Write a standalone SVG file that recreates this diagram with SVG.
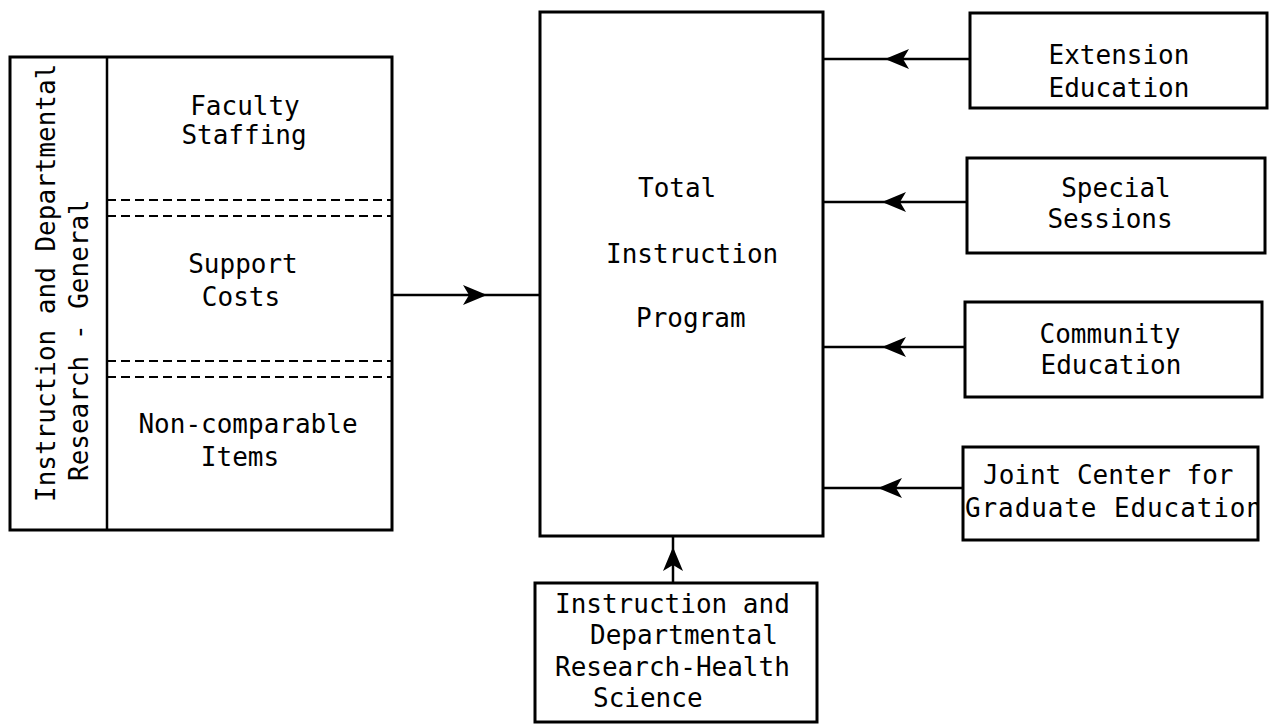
<svg xmlns="http://www.w3.org/2000/svg" width="1274" height="724" viewBox="0 0 1274 724">
<style>
.box{fill:none;stroke:#000;stroke-width:3}
.div{fill:none;stroke:#000;stroke-width:2.5}
.dash{fill:none;stroke:#000;stroke-width:2;stroke-dasharray:9 5}
.conn{fill:none;stroke:#000;stroke-width:2.5}
text{font-family:"DejaVu Sans Mono","Liberation Mono",monospace;font-size:26px;fill:#000}
.m{text-anchor:middle}
</style>
<defs>
<marker id="ah" viewBox="-26 -12 28 24" refX="0" refY="0" markerWidth="28" markerHeight="24" markerUnits="userSpaceOnUse" orient="auto">
<path d="M0,0 L-24,-10 L-18,0 L-24,10 Z" fill="#000"/>
</marker>
<clipPath id="jclip"><rect x="963" y="447" width="295" height="93"/></clipPath>
</defs>
<rect width="1274" height="724" fill="#fff"/>

<g id="left-node">
<rect class="box" x="10" y="57" width="382" height="473"/>
<line class="div" x1="107" y1="57" x2="107" y2="530"/>
<line class="dash" x1="107" y1="200" x2="392" y2="200"/>
<line class="dash" x1="107" y1="216" x2="392" y2="216"/>
<line class="dash" x1="107" y1="361" x2="392" y2="361"/>
<line class="dash" x1="107" y1="377" x2="392" y2="377"/>
<text transform="translate(55,502) rotate(-90)">Instruction and Departmental</text>
<text transform="translate(88,481) rotate(-90)">Research - General</text>
<text class="m" x="245" y="115">Faculty</text>
<text class="m" x="244" y="144">Staffing</text>
<text class="m" x="243" y="273">Support</text>
<text class="m" x="241" y="306">Costs</text>
<text class="m" x="248" y="433">Non-comparable</text>
<text class="m" x="240" y="466">Items</text>
</g>

<g id="center-node">
<rect class="box" x="540" y="12" width="283" height="524"/>
<text x="638" y="197">Total</text>
<text x="606" y="263">Instruction</text>
<text x="636" y="327">Program</text>
</g>

<g id="extension-node">
<rect class="box" x="970" y="13" width="297" height="95"/>
<text class="m" x="1119" y="64">Extension</text>
<text class="m" x="1119" y="97">Education</text>
</g>

<g id="special-node">
<rect class="box" x="967" y="158" width="298" height="95"/>
<text class="m" x="1116" y="197">Special</text>
<text class="m" x="1110" y="228">Sessions</text>
</g>

<g id="community-node">
<rect class="box" x="965" y="302" width="297" height="95"/>
<text class="m" x="1110" y="343">Community</text>
<text class="m" x="1111" y="374">Education</text>
</g>

<g id="joint-node">
<rect class="box" x="963" y="447" width="295" height="93"/>
<g clip-path="url(#jclip)">
<text x="983" y="484">Joint Center for</text>
<text x="965" y="517" textLength="297" lengthAdjust="spacing">Graduate Education</text>
</g>
</g>

<g id="health-node">
<rect class="box" x="535" y="583" width="282" height="139"/>
<text x="555" y="613">Instruction and</text>
<text x="590" y="644">Departmental</text>
<text x="555" y="676">Research-Health</text>
<text x="593" y="707">Science</text>
</g>

<g id="connectors">
<line class="conn" x1="392" y1="295" x2="487" y2="295" marker-end="url(#ah)"/>
<line class="conn" x1="487" y1="295" x2="540" y2="295"/>
<line class="conn" x1="970" y1="59" x2="885" y2="59" marker-end="url(#ah)"/>
<line class="conn" x1="885" y1="59" x2="823" y2="59"/>
<line class="conn" x1="967" y1="202" x2="882" y2="202" marker-end="url(#ah)"/>
<line class="conn" x1="882" y1="202" x2="823" y2="202"/>
<line class="conn" x1="965" y1="347" x2="882" y2="347" marker-end="url(#ah)"/>
<line class="conn" x1="882" y1="347" x2="823" y2="347"/>
<line class="conn" x1="963" y1="488" x2="878" y2="488" marker-end="url(#ah)"/>
<line class="conn" x1="878" y1="488" x2="823" y2="488"/>
<line class="conn" x1="673" y1="583" x2="673" y2="547" marker-end="url(#ah)"/>
<line class="conn" x1="673" y1="547" x2="673" y2="536"/>
</g>
</svg>
